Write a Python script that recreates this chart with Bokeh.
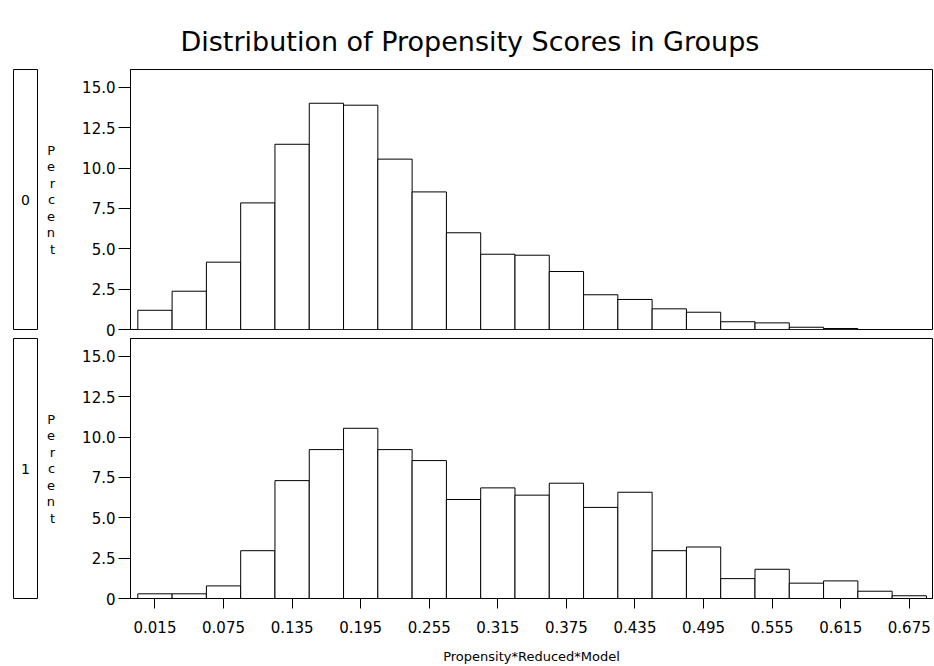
from bokeh.plotting import figure
from bokeh.layouts import column, row
from bokeh.models import Range1d, FixedTicker, NumeralTickFormatter
from bokeh.core.properties import value
from bokeh.embed import file_html
from bokeh.resources import INLINE

# ---------------- data ----------------
bin_edges = [round(0.03 * i, 2) for i in range(24)]  # 0.00 .. 0.69
group_labels = ["0", "1"]
pct_group0 = [1.19, 2.37, 4.17, 7.84, 11.47, 14.01, 13.89, 10.55, 8.52, 5.99, 4.66, 4.60,
              3.59, 2.15, 1.86, 1.28, 1.07, 0.48, 0.41, 0.14, 0.06, 0.0, 0.0]
pct_group1 = [0.29, 0.29, 0.78, 2.96, 7.30, 9.22, 10.54, 9.22, 8.54, 6.13, 6.85, 6.40,
              7.14, 5.64, 6.58, 2.96, 3.19, 1.23, 1.81, 0.95, 1.09, 0.45, 0.17]
x_ticks = [0.015, 0.075, 0.135, 0.195, 0.255, 0.315, 0.375, 0.435, 0.495, 0.555, 0.615, 0.675]
x_tick_labels = ["0.015", "0.075", "0.135", "0.195", "0.255", "0.315", "0.375", "0.435",
                 "0.495", "0.555", "0.615", "0.675"]
y_ticks = [0, 2.5, 5.0, 7.5, 10.0, 12.5, 15.0]
y_tick_labels = ["0", "2.5", "5.0", "7.5", "10.0", "12.5", "15.0"]
title_text = "Distribution of Propensity Scores in Groups"
x_title = "Propensity*Reduced*Model"
y_title = "Percent"

FONT = "DejaVu Sans"
x_range = Range1d(-0.0064, 0.6953)


def make_panel(values, height, top, bottom, show_x):
    p = figure(width=894, height=height, x_range=x_range, y_range=Range1d(0, 16.1),
               output_backend="svg", toolbar_location=None,
               x_axis_location="below" if show_x else None,
               min_border_left=90, min_border_right=2,
               min_border_top=top, min_border_bottom=bottom)
    p.grid.visible = False
    p.outline_line_color = "black"
    p.outline_line_width = 1
    p.background_fill_color = "white"
    p.border_fill_color = "white"
    p.quad(left=bin_edges[:-1], right=bin_edges[1:], top=values, bottom=0,
           fill_color="white", line_color="black", line_width=1)
    ya = p.yaxis[0]
    ya.ticker = FixedTicker(ticks=y_ticks)
    ya.formatter = NumeralTickFormatter(format="0.0")
    ya.major_label_overrides = {t: l for t, l in zip(y_ticks, y_tick_labels)}
    ya.major_tick_out = 12
    ya.major_tick_in = 0
    ya.minor_tick_out = 0
    ya.minor_tick_in = 0
    ya.major_label_standoff = 3
    ya.major_label_text_font = FONT
    ya.major_label_text_font_size = "15px"
    ya.major_label_text_color = "black"
    ya.axis_line_color = "black"
    ya.major_tick_line_color = "black"
    ya.axis_label = "\n".join(list(y_title))
    ya.axis_label_orientation = "horizontal"
    ya.axis_label_text_font = FONT
    ya.axis_label_text_font_size = "13px"
    ya.axis_label_text_line_height = 1.1
    ya.axis_label_text_font_style = "normal"
    ya.axis_label_text_color = "black"
    ya.axis_label_standoff = 24
    if show_x:
        xa = p.xaxis[0]
        xa.ticker = FixedTicker(ticks=x_ticks)
        xa.formatter = NumeralTickFormatter(format="0.000")
        xa.major_label_overrides = {t: l for t, l in zip(x_ticks, x_tick_labels)}
        xa.major_tick_out = 10
        xa.major_tick_in = 0
        xa.minor_tick_out = 0
        xa.minor_tick_in = 0
        xa.major_label_standoff = 12
        xa.major_label_text_font = FONT
        xa.major_label_text_font_size = "15px"
        xa.major_label_text_color = "black"
        xa.axis_line_color = "black"
        xa.major_tick_line_color = "black"
        xa.axis_label = x_title
        xa.axis_label_text_font = FONT
        xa.axis_label_text_font_size = "13px"
        xa.axis_label_text_font_style = "normal"
        xa.axis_label_text_color = "black"
        xa.axis_label_standoff = 13
    return p


def make_strip(label, height, top, bottom):
    s = figure(width=40, height=height, x_range=Range1d(0, 1), y_range=Range1d(0, 1),
               output_backend="svg", toolbar_location=None,
               x_axis_location=None, y_axis_location=None,
               min_border_left=13, min_border_right=3,
               min_border_top=top, min_border_bottom=bottom)
    s.grid.visible = False
    s.outline_line_color = "black"
    s.outline_line_width = 1
    s.text(x=[0.5], y=[0.5], text=[label], text_align="center", text_baseline="middle",
           text_font=value(FONT), text_font_size="14px", text_color="black")
    return s


p0 = make_panel(pct_group0, 338, 69, 9, False)
p0.title.text = title_text
p0.title.align = "left"
p0.title.offset = 50
p0.title.standoff = 26
p0.title.text_font = FONT
p0.title.text_font_size = "27px"
p0.title.text_font_style = "normal"
p0.title.text_color = "black"

p1 = make_panel(pct_group1, 328, 0, 68, True)

s0 = make_strip(group_labels[0], 338, 69, 9)
s1 = make_strip(group_labels[1], 328, 0, 68)

layout = column(row(s0, p0, spacing=0), row(s1, p1, spacing=0), spacing=0)

open("out.html", "w").write(file_html(layout, INLINE))
